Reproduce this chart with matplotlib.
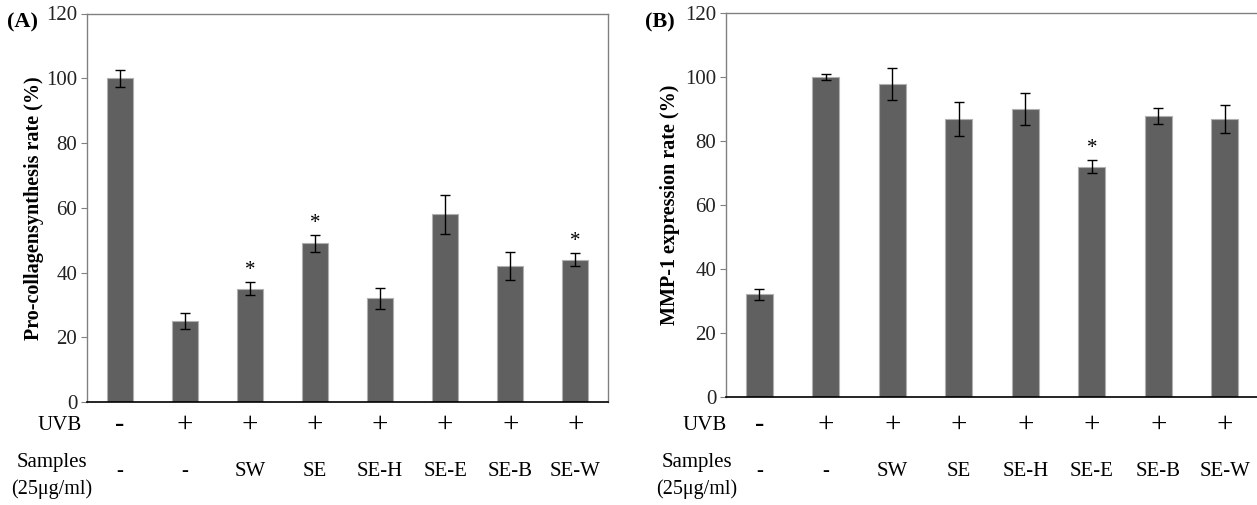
import matplotlib
matplotlib.use('Agg')
import matplotlib.pyplot as plt
import matplotlib.transforms as transforms
import numpy as np

plt.rcParams['font.family'] = ['Liberation Serif', 'DejaVu Serif']

# data
samples = ['-', '-', 'SW', 'SE', 'SE-H', 'SE-E', 'SE-B', 'SE-W']
uvb = ['-', '+', '+', '+', '+', '+', '+', '+']

collagen = [100, 25, 35, 49, 32, 58, 42, 44]
collagen_err = [2.7, 2.4, 2.0, 2.6, 3.3, 6.0, 4.3, 2.0]
collagen_star = [False, False, True, True, False, False, False, True]

mmp1 = [32, 100, 98, 87, 90, 72, 88, 87]
mmp1_err = [1.7, 1.0, 5.0, 5.3, 5.0, 2.0, 2.5, 4.4]
mmp1_star = [False, False, False, False, False, True, False, False]

W, H = 1257, 505
fig = plt.figure(figsize=(W / 100, H / 100), dpi=100)

BAR = '#606060'


def panel(left, right, top, bottom, vals, errs, stars, ylabel, tag, tagx,
          uvbx, sampx, ylabx, right_spine=True):
	ax = fig.add_axes([left / W, (H - bottom) / H, (right - left) / W, (bottom - top) / H])
	x = np.arange(len(vals))
	ax.bar(x, vals, width=0.4, color=BAR, edgecolor='#b0b0b0', linewidth=0.8, zorder=2)
	ax.errorbar(x, vals, yerr=errs, fmt='none', ecolor='black', elinewidth=1,
		capsize=3.3, capthick=1, zorder=3)
	for i in range(len(vals)):
		if stars[i]:
			ax.text(x[i], vals[i] + errs[i] + 0.6, '*', ha='center', va='bottom', fontsize=15)
	ax.set_xlim(-0.5, len(vals) - 0.5)
	ax.set_ylim(0, 120)
	ax.set_yticks(range(0, 121, 20))
	ax.set_xticks([])
	ax.tick_params(axis='y', labelsize=15, length=4, color='#808080', pad=3,
		labelcolor='#222222')
	for s in ['left', 'top', 'right']:
		ax.spines[s].set_color('#808080')
		ax.spines[s].set_linewidth(1)
	ax.spines['bottom'].set_color('black')
	ax.spines['bottom'].set_linewidth(1.2)
	if not right_spine:
		ax.spines['right'].set_visible(False)

	fig.text(ylabx / W, (H - (top + bottom) / 2) / H, ylabel, rotation=90,
		ha='center', va='center', fontsize=14.5, fontweight='bold')
	fig.text(tagx / W, (H - 22) / H, tag, ha='left', va='center', fontsize=16,
		fontweight='bold')

	tr = transforms.blended_transform_factory(ax.transData, fig.transFigure)
	for i in range(len(vals)):
		if uvb[i] == '-':
			ax.text(x[i], (H - 424) / H, '-', transform=tr, ha='center', va='center',
				fontsize=20, fontweight='bold', clip_on=False)
		else:
			ax.text(x[i], (H - 425) / H, '+', transform=tr, ha='center', va='center',
				fontsize=21, clip_on=False)
		ax.text(x[i], (H - 472) / H, samples[i], transform=tr, ha='center', va='center',
			fontsize=15, clip_on=False)
	fig.text(uvbx / W, (H - 426) / H, 'UVB', ha='right', va='center', fontsize=15)
	fig.text(sampx / W, (H - 463) / H, 'Samples', ha='center', va='center', fontsize=15)
	fig.text(sampx / W, (H - 489) / H, '(25\u03bcg/ml)', ha='center', va='center', fontsize=14.5)
	return ax


panel(87, 608, 13.5, 402, collagen, collagen_err, collagen_star,
	'Pro-collagensynthesis rate (%)', '(A)', 7, 82, 52, 34)
panel(726, 1258, 13.3, 396.7, mmp1, mmp1_err, mmp1_star,
	'MMP-1 expression rate (%)', '(B)', 645, 727, 697, 670, right_spine=False)

fig.savefig('out.png', dpi=100)
